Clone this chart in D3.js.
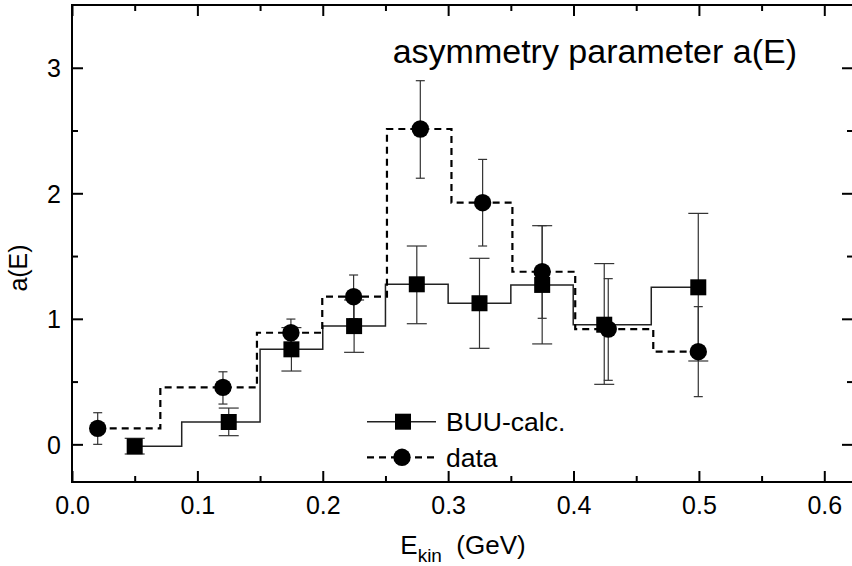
<!DOCTYPE html>
<html>
<head>
    <script src="https://d3js.org/d3.v7.min.js"></script>
    <style>
        body { margin: 0; background: #fff; }
        text { font-family: "Liberation Sans", Arial, sans-serif; fill: #000; }
    </style>
</head>
<body>
<script>
// BUU calculation (squares)
const buuE   = [0.050, 0.125, 0.175, 0.225, 0.275, 0.325, 0.375, 0.4245, 0.4995];
const buuA   = [-0.016, 0.178, 0.757, 0.942, 1.275, 1.124, 1.270, 0.953, 1.251];
const buuLo  = [-0.077, 0.069, 0.584, 0.733, 0.961, 0.765, 0.800, 0.478, 0.664];
const buuHi  = [0.048, 0.289, 0.930, 1.150, 1.580, 1.482, 1.742, 1.440, 1.840];

// measured data (circles)
const dataE  = [0.0205, 0.1204, 0.1746, 0.2246, 0.2778, 0.3275, 0.375, 0.4277, 0.4995];
const dataA  = [0.127, 0.454, 0.889, 1.176, 2.512, 1.925, 1.375, 0.918, 0.738];
const dataLo = [0.000, 0.321, 0.780, 1.000, 2.120, 1.580, 1.004, 0.510, 0.380];
const dataHi = [0.252, 0.578, 0.998, 1.349, 2.897, 2.270, 1.742, 1.320, 1.097];

const xMajor = [0, 0.1, 0.2, 0.3, 0.4, 0.5, 0.6];
const xMinor = [0.05, 0.15, 0.25, 0.35, 0.45, 0.55];
const yMajor = [0, 1, 2, 3];
const yMinor = [0.5, 1.5, 2.5];
const legendLabels = ['BUU-calc.', 'data'];
const title = 'asymmetry parameter a(E)';

const width = 852, height = 566;
const margin = { top: 5, right: -1, bottom: 84, left: 72 };

const x = d3.scaleLinear()
    .domain([0, 0.6229])
    .range([margin.left, width - margin.right]);

const y = d3.scaleLinear()
    .domain([-0.3, 3.5])
    .range([height - margin.bottom, margin.top]);

const svg = d3.select('body').append('svg')
    .attr('width', width)
    .attr('height', height);

const buu = buuE.map((e, i) => ({ x: e, y: buuA[i], lo: buuLo[i], hi: buuHi[i] }));
const data = dataE.map((e, i) => ({ x: e, y: dataA[i], lo: dataLo[i], hi: dataHi[i] }));

const line = d3.line()
    .x(d => x(d.x))
    .y(d => y(d.y))
    .curve(d3.curveStep);

// step lines
svg.append('path')
    .datum(buu)
    .attr('fill', 'none')
    .attr('stroke', '#222')
    .attr('stroke-width', 1.5)
    .attr('d', line);

svg.append('path')
    .datum(data)
    .attr('fill', 'none')
    .attr('stroke', '#000')
    .attr('stroke-width', 2.2)
    .attr('stroke-dasharray', '7,5')
    .attr('d', line);

// error bars
function errorBars(pts, capW) {
    const g = svg.append('g')
        .attr('stroke', '#333')
        .attr('stroke-width', 1.2);
    g.selectAll('line.v').data(pts).join('line')
        .attr('x1', d => x(d.x)).attr('x2', d => x(d.x))
        .attr('y1', d => y(d.lo)).attr('y2', d => y(d.hi));
    ['lo', 'hi'].forEach(k => {
        g.selectAll('line.' + k).data(pts).join('line')
            .attr('x1', d => x(d.x) - capW / 2).attr('x2', d => x(d.x) + capW / 2)
            .attr('y1', d => y(d[k])).attr('y2', d => y(d[k]));
    });
}
errorBars(buu, 20);
errorBars(data, 9);

// markers
svg.append('g').selectAll('rect').data(buu).join('rect')
    .attr('x', d => x(d.x) - 8)
    .attr('y', d => y(d.y) - 8)
    .attr('width', 16)
    .attr('height', 16)
    .attr('fill', '#000');

svg.append('g').selectAll('circle').data(data).join('circle')
    .attr('cx', d => x(d.x))
    .attr('cy', d => y(d.y))
    .attr('r', 8.7)
    .attr('fill', '#000');

// axes with inward ticks
function ticks(axis, pos, values, size, labels) {
    const g = svg.append('g')
        .attr('transform', pos)
        .call(axis.tickValues(values).tickSize(size).tickSizeOuter(0)
            .tickFormat(labels ? labels : ''));
    g.select('.domain').remove();
    g.selectAll('.tick line').attr('stroke', '#000').attr('stroke-width', 2);
    g.selectAll('.tick text').attr('font-size', 25);
    return g;
}

const bottom = height - margin.bottom;
const right = width - margin.right;

const gx = ticks(d3.axisBottom(x), `translate(0,${bottom})`, xMajor, -11, d3.format('.1f'));
gx.selectAll('.tick text').attr('y', 14).attr('dy', '0.71em');
ticks(d3.axisBottom(x), `translate(0,${bottom})`, xMinor, -6);
ticks(d3.axisTop(x), `translate(0,${margin.top})`, xMajor, -11);
ticks(d3.axisTop(x), `translate(0,${margin.top})`, xMinor, -6);

const gy = ticks(d3.axisLeft(y), `translate(${margin.left},0)`, yMajor, -11, d3.format('d'));
gy.selectAll('.tick text').attr('x', -11).attr('dy', '0.35em');
ticks(d3.axisLeft(y), `translate(${margin.left},0)`, yMinor, -6);
ticks(d3.axisRight(y), `translate(${right},0)`, yMajor, -11);
ticks(d3.axisRight(y), `translate(${right},0)`, yMinor, -6);

// frame
svg.append('rect')
    .attr('x', margin.left)
    .attr('y', margin.top)
    .attr('width', right - margin.left)
    .attr('height', bottom - margin.top)
    .attr('fill', 'none')
    .attr('stroke', '#000')
    .attr('stroke-width', 2);

// title
svg.append('text')
    .attr('x', 797)
    .attr('y', 63)
    .attr('text-anchor', 'end')
    .attr('font-size', 34)
    .text(title);

// legend
const leg = svg.append('g');
const legY = [421.7, 457.3];
leg.append('line')
    .attr('x1', 367).attr('x2', 436).attr('y1', legY[0]).attr('y2', legY[0])
    .attr('stroke', '#222').attr('stroke-width', 1.5);
leg.append('rect')
    .attr('x', 403 - 8).attr('y', legY[0] - 8).attr('width', 16).attr('height', 16)
    .attr('fill', '#000');
leg.append('line')
    .attr('x1', 367).attr('x2', 436).attr('y1', legY[1]).attr('y2', legY[1])
    .attr('stroke', '#000').attr('stroke-width', 2.2).attr('stroke-dasharray', '7,5');
leg.append('circle')
    .attr('cx', 402).attr('cy', legY[1]).attr('r', 8.7).attr('fill', '#000');
leg.selectAll('text').data(legendLabels).join('text')
    .attr('x', 446)
    .attr('y', (d, i) => legY[i])
    .attr('dy', '0.35em')
    .attr('font-size', 26.5)
    .text(d => d);

// axis titles
svg.append('text')
    .attr('transform', 'translate(27,268) rotate(-90)')
    .attr('text-anchor', 'middle')
    .attr('font-size', 25)
    .text('a(E)');

const xt = svg.append('text')
    .attr('x', 463)
    .attr('y', 554)
    .attr('text-anchor', 'middle')
    .attr('font-size', 26);
xt.append('tspan').text('E');
xt.append('tspan').attr('font-size', 19).attr('dy', 8).text('kin');
xt.append('tspan').attr('dy', -8).text('\u00a0\u00a0(GeV)');
</script>
</body>
</html>
